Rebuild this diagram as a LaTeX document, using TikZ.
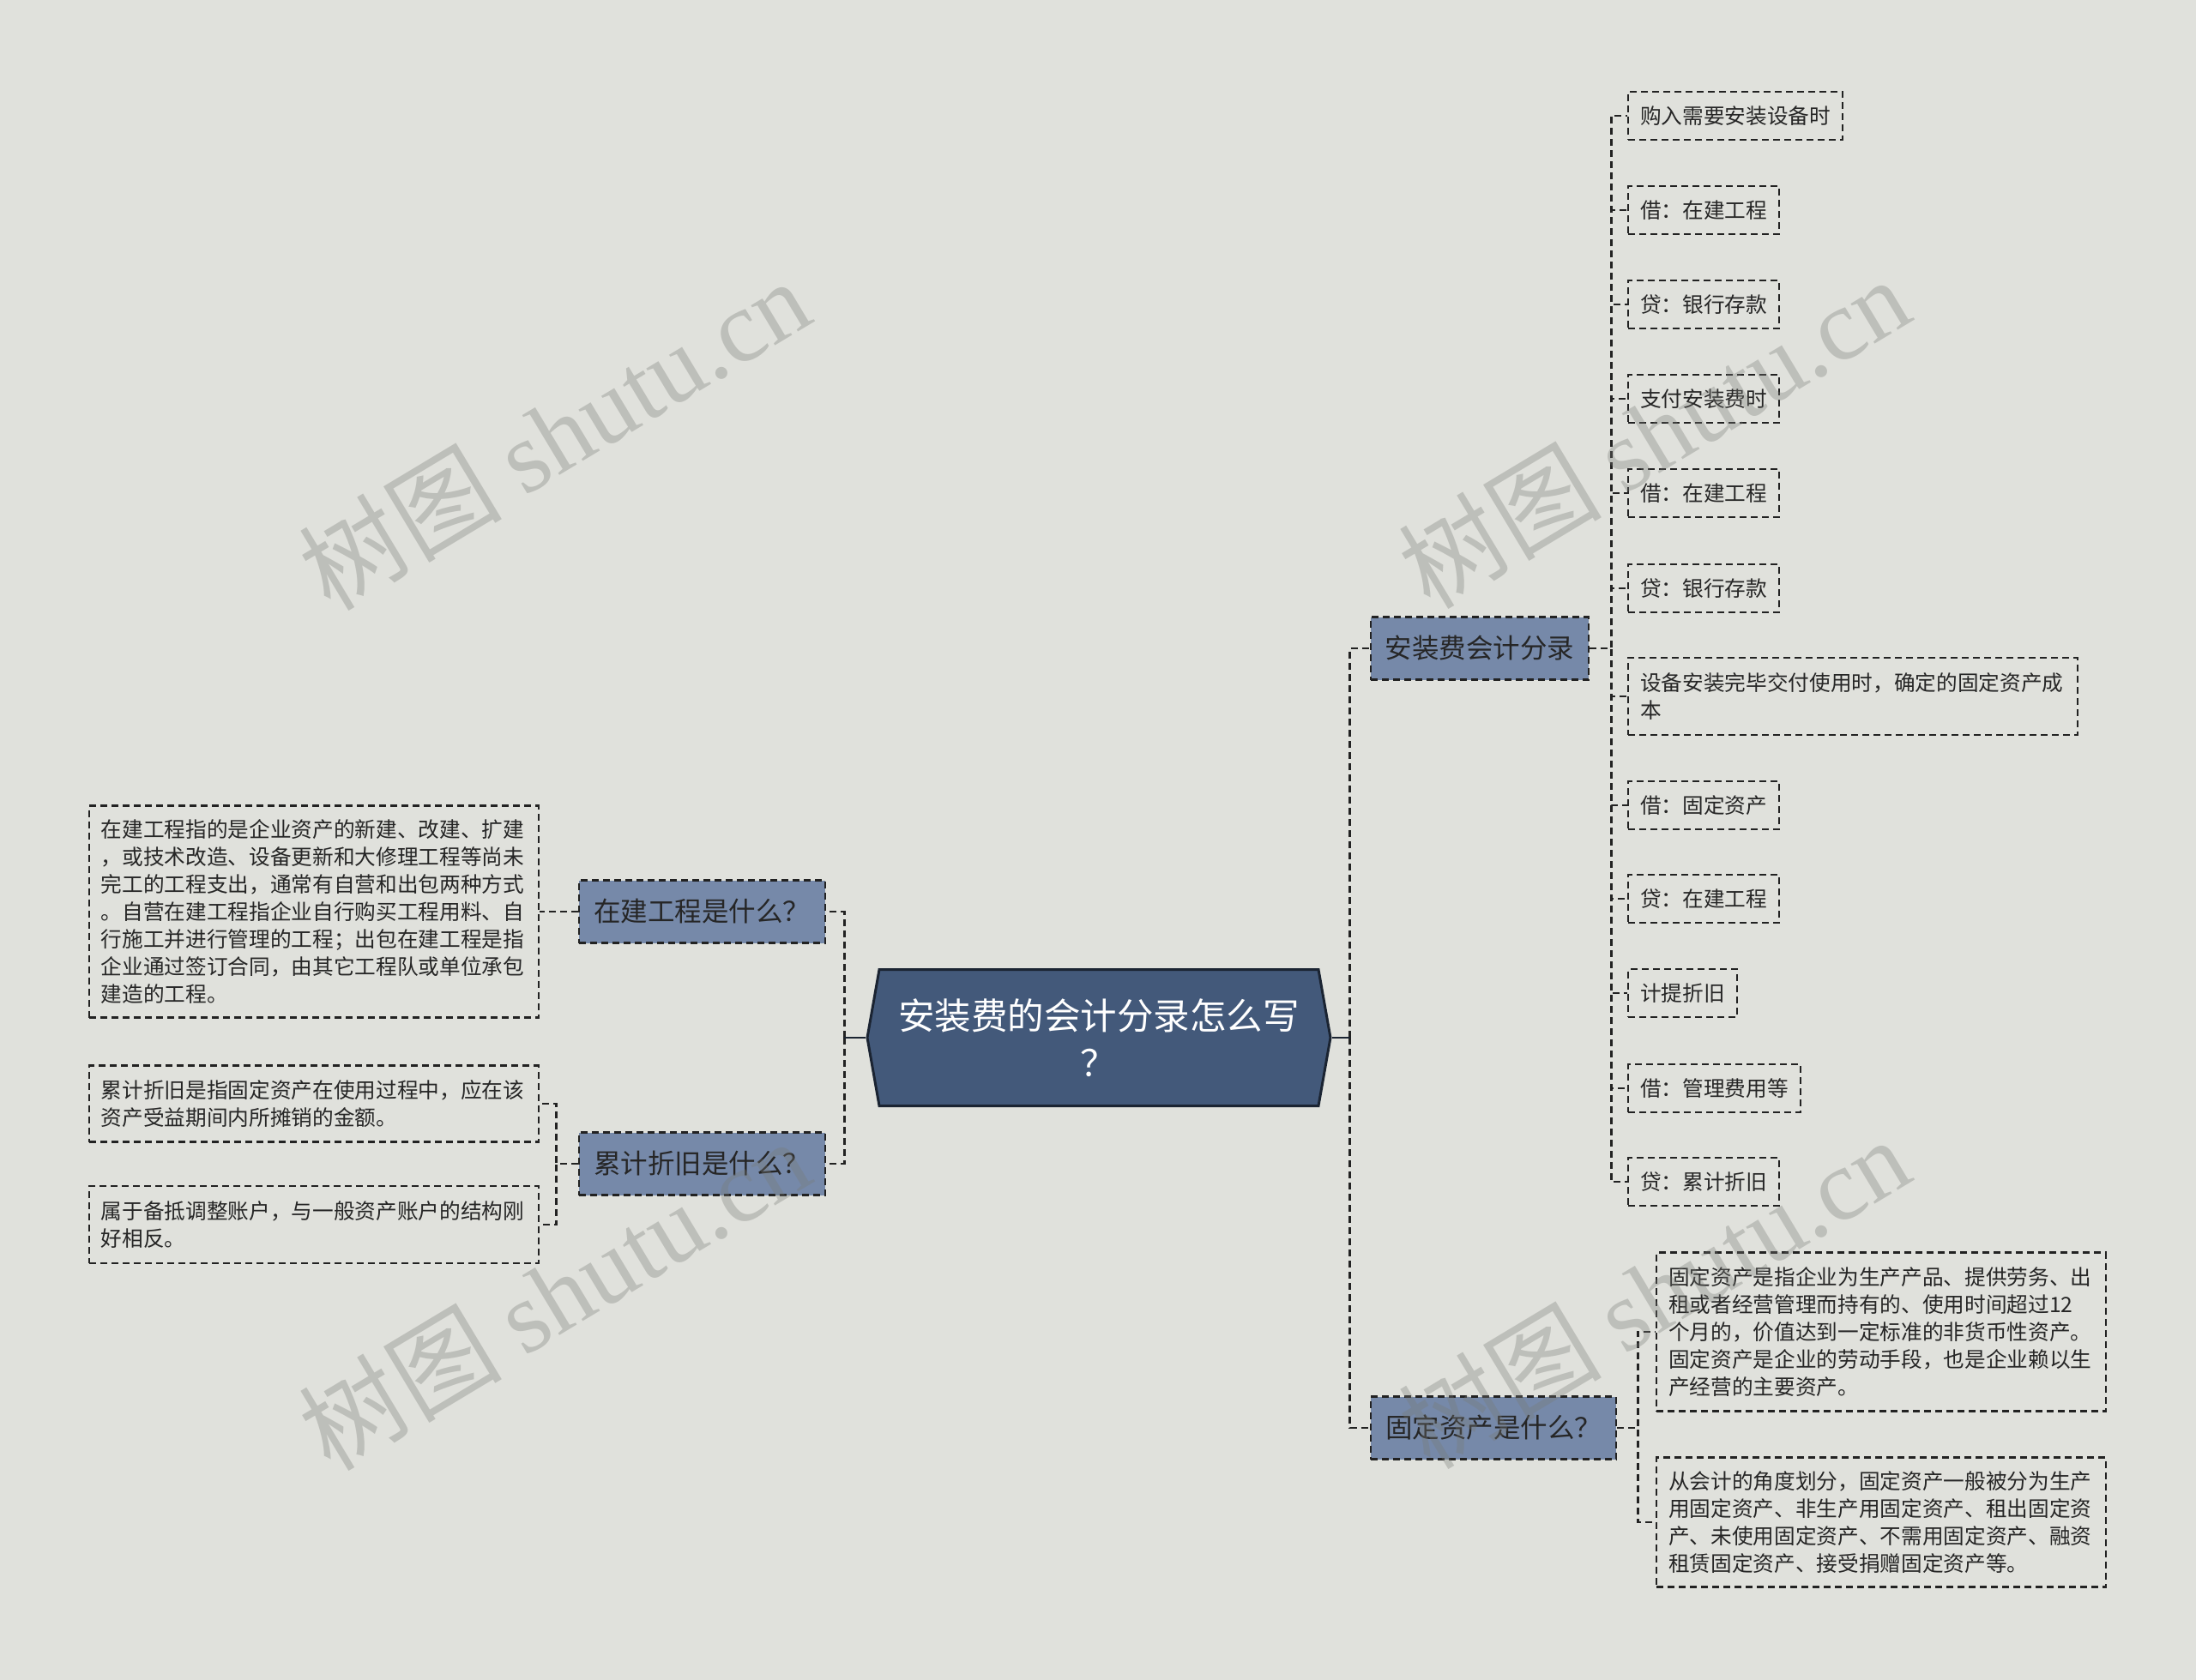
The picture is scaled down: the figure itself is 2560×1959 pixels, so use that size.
\documentclass[tikz,border=0pt]{standalone}
\usepackage{fontspec}
\setmainfont{Noto Sans CJK SC}
\newfontfamily\wmlatin{Liberation Serif}
\usetikzlibrary{shapes.symbols}
\definecolor{bgc}{HTML}{E0E1DC}
\definecolor{linec}{HTML}{222222}
\definecolor{lonefill}{HTML}{7689A9}
\definecolor{rootfill}{HTML}{43597A}
\definecolor{rootline}{HTML}{1B2432}
\definecolor{txtc}{HTML}{262626}
\definecolor{wmc}{HTML}{787A75}
\tikzset{
  conn/.style={draw=linec, line width=0.72pt, dash pattern=on 2.4pt off 1.5pt},
  stub/.style={draw=rootline, line width=0.85pt},
  leaf/.style={draw=linec, line width=0.72pt, dash pattern=on 2.4pt off 1.5pt,
    font=\fontsize{7.4}{9.6}\selectfont, text=txtc, inner xsep=4.2pt, inner ysep=0pt,
    minimum height=16.8pt, align=left},
  wideleaf/.style={leaf, text width=148.8pt},
  lone/.style={draw=linec, line width=0.72pt, dash pattern=on 2.4pt off 1.5pt, fill=lonefill,
    font=\fontsize{9.45}{12}\selectfont, text=txtc, minimum height=21.9pt, inner xsep=4pt},
  rootnode/.style={shape=signal, signal to=west and east, signal pointer angle=160,
    draw=rootline, line width=0.9pt, fill=rootfill, text=white,
    font=\fontsize{12.75}{16.65}\selectfont, align=center,
    minimum width=162pt, minimum height=47.7pt, inner sep=0pt},
  wm/.style={text=wmc, text opacity=0.33, rotate=31, font=\fontsize{35.5}{40}\selectfont, inner sep=0pt}
}
\begin{document}
\begin{tikzpicture}[x=0.3pt,y=-0.3pt]
\useasboundingbox[fill=bgc] (0,0) rectangle (2560,1959);

% root
\node[rootnode] (root) at (1281,1210) {安装费的会计分录怎么写\\？};

% level one
\node[lone, anchor=west, minimum width=76.2pt] (a) at (1597,756) {安装费会计分录};
\node[lone, anchor=west, minimum width=85.8pt] (f) at (1597,1665) {固定资产是什么？};
\node[lone, anchor=east, minimum width=86.1pt] (z) at (963,1063) {在建工程是什么？};
\node[lone, anchor=east, minimum width=86.1pt] (l) at (963,1357) {累计折旧是什么？};

% right leaves of a
\node[leaf, anchor=west] (r1) at (1897,135) {购入需要安装设备时};
\node[leaf, anchor=west] (r2) at (1897,245) {借：在建工程};
\node[leaf, anchor=west] (r3) at (1897,355) {贷：银行存款};
\node[leaf, anchor=west] (r4) at (1897,465) {支付安装费时};
\node[leaf, anchor=west] (r5) at (1897,575) {借：在建工程};
\node[leaf, anchor=west] (r6) at (1897,686) {贷：银行存款};
\node[wideleaf, anchor=west, minimum height=27pt] (r7) at (1897,812) {设备安装完毕交付使用时，确定的固定资产成\\本};
\node[leaf, anchor=west] (r8) at (1897,939) {借：固定资产};
\node[leaf, anchor=west] (r9) at (1897,1048) {贷：在建工程};
\node[leaf, anchor=west] (r10) at (1897,1158) {计提折旧};
\node[leaf, anchor=west] (r11) at (1897,1269) {借：管理费用等};
\node[leaf, anchor=west] (r12) at (1897,1378) {贷：累计折旧};

% leaves of f
\node[wideleaf, anchor=west, minimum height=55.5pt] (fa) at (1930,1553) {固定资产是指企业为生产产品、提供劳务、出\\租或者经营管理而持有的、使用时间超过12\\个月的，价值达到一定标准的非货币性资产。\\固定资产是企业的劳动手段，也是企业赖以生\\产经营的主要资产。};
\node[wideleaf, anchor=west, minimum height=45.3pt] (fb) at (1930,1775) {从会计的角度划分，固定资产一般被分为生产\\用固定资产、非生产用固定资产、租出固定资\\产、未使用固定资产、不需用固定资产、融资\\租赁固定资产、接受捐赠固定资产等。};

% leaves of z and l
\node[wideleaf, anchor=east, minimum height=74.1pt] (zl) at (629,1063) {在建工程指的是企业资产的新建、改建、扩建\\，或技术改造、设备更新和大修理工程等尚未\\完工的工程支出，通常有自营和出包两种方式\\。自营在建工程指企业自行购买工程用料、自\\行施工并进行管理的工程；出包在建工程是指\\企业通过签订合同，由其它工程队或单位承包\\建造的工程。};
\node[wideleaf, anchor=east, minimum height=26.7pt] (l1) at (629,1287) {累计折旧是指固定资产在使用过程中，应在该\\资产受益期间内所摊销的金额。};
\node[wideleaf, anchor=east, minimum height=27pt] (l2) at (629,1428) {属于备抵调整账户，与一般资产账户的结构刚\\好相反。};

% connectors from root
\draw[conn] (root.east) ++(21,0) |- (a.west);
\draw[conn] (root.east) ++(21,0) |- (f.west);
\draw[conn] (root.west) ++(-25,0) |- (z.east);
\draw[conn] (root.west) ++(-25,0) |- (l.east);
\draw[stub] (root.east) -- ++(21,0);
\draw[stub] (root.west) -- ++(-25,0);

% connectors from a
\foreach \c in {r1,r2,r3,r4,r5,r6,r7,r8,r9,r10,r11,r12}
  \draw[conn] (a.east) -- ++(25,0) |- (\c.west);
% from f
\draw[conn] (f.east) -- ++(24,0) |- (fa.west);
\draw[conn] (f.east) -- ++(24,0) |- (fb.west);
% from z, l
\draw[conn] (z.west) -- (zl.east);
\draw[conn] (l.west) -- ++(-25,0) |- (l1.east);
\draw[conn] (l.west) -- ++(-25,0) |- (l2.east);

% watermarks
\node[wm] (w1) at (646,506) {树图 {\wmlatin shutu.cn}};
\node[wm] (w2) at (1928,504) {树图 {\wmlatin shutu.cn}};
\node[wm] (w3) at (646,1509) {树图 {\wmlatin shutu.cn}};
\node[wm] (w4) at (1928,1507) {树图 {\wmlatin shutu.cn}};
\end{tikzpicture}
\end{document}
